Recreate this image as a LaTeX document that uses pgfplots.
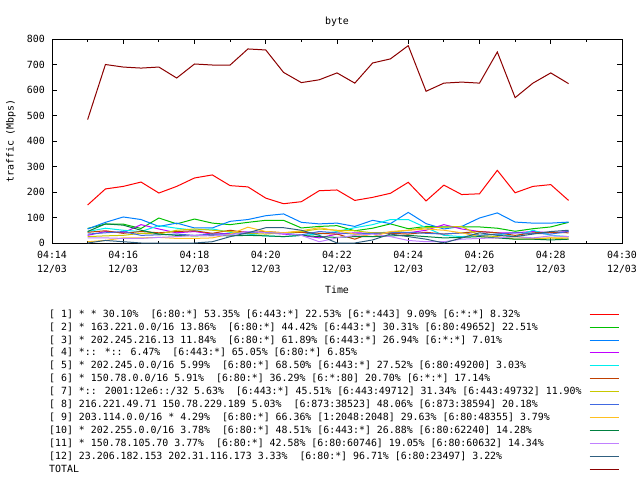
\documentclass[border=0pt]{standalone}
\usepackage{fontspec}
\setmainfont{DejaVu Sans Mono}
\usepackage{pgfplots}
\usepackage{pgfplotstable}
\pgfplotsset{compat=1.18}

% gnuplot png default line colours
\definecolor{c1}{HTML}{FF0000}
\definecolor{c2}{HTML}{00C000}
\definecolor{c3}{HTML}{0080FF}
\definecolor{c4}{HTML}{C000FF}
\definecolor{c5}{HTML}{00EEEE}
\definecolor{c6}{HTML}{C04000}
\definecolor{c7}{HTML}{C8C800}
\definecolor{c8}{HTML}{4169E1}
\definecolor{c9}{HTML}{FFC020}
\definecolor{c10}{HTML}{008040}
\definecolor{c11}{HTML}{C080FF}
\definecolor{c12}{HTML}{306080}
\definecolor{c13}{HTML}{8B0000}

% time in minutes after 04:00, traffic in Mbps
\pgfplotstableread{
t    s1   s2  s3  s4  s5  s6  s7  s8  s9  s10 s11 s12 tot
15.0 149  57  55  30  45  42  25  35  5   45  20  0   484
15.5 212  74  81  45  58  48  28  40  10  75  20  10  700
16.0 222  74  102 40  50  38  30  45  20  70  18  5   690
16.5 239  57  92  72  45  45  38  30  20  50  18  0   686
17.0 196  98  65  55  68  40  35  32  22  35  22  0   690
17.5 222  75  78  40  58  45  50  35  18  30  25  0   647
18.0 255  94  59  45  50  48  55  30  18  28  30  0   702
18.5 267  78  59  35  55  38  50  35  20  30  28  5   698
19.0 225  72  85  38  42  50  45  35  35  28  32  25  698
19.5 220  81  92  45  35  40  38  40  62  30  45  40  761
20.0 176  89  107 40  28  45  35  42  45  28  40  60  757
20.5 154  89  114 35  25  40  40  38  40  25  38  60  669
21.0 162  59  81  30  30  42  45  32  48  30  30  50  629
21.5 205  65  75  20  35  38  55  45  60  25  5   30  640
22.0 208  68  78  35  45  35  50  40  48  22  20  0   667
22.5 167  48  65  40  60  15  48  35  35  25  30  0   627
23.0 179  58  89  38  72  40  40  38  25  25  35  12  706
23.5 195  75  76  42  92  38  42  40  45  28  25  35  722
24.0 238  56  120 40  92  35  50  42  50  30  10  25  774
24.5 165  65  76  50  60  42  60  38  55  25  5   15  595
25.0 227  63  55  72  30  35  62  35  50  20  5   0   627
25.5 190  63  65  55  25  40  65  40  40  22  15  20  631
26.0 193  63  98  45  30  45  30  30  25  25  18  40  627
26.5 285  58  118 40  35  40  25  35  20  20  20  30  749
27.0 197  46  82  40  25  30  15  40  25  15  25  25  570
27.5 222  56  78  45  50  40  15  38  18  15  20  35  627
28.0 229  63  78  40  30  42  20  35  20  12  28  45  667
28.5 167  81  82  45  25  40  15  45  20  15  25  50  625
}\traffic

\newcommand{\gfont}{\fontsize{9.9bp}{12bp}\selectfont}
\newcommand{\entry}[1]{\makebox[540bp][l]{#1}}

\begin{document}
\begin{tikzpicture}[font=\gfont]
\path[use as bounding box] (0,0) rectangle (640bp,-480bp);
\begin{axis}[
  at={(52bp,-39bp)}, anchor=north west,
  scale only axis, width=570bp, height=204bp,
  xmin=14, xmax=30, ymin=0, ymax=800,
  xtick={14,16,...,30}, minor xtick={15,17,...,29},
  xticklabels={{04:14\\12/03},{04:16\\12/03},{04:18\\12/03},{04:20\\12/03},
    {04:22\\12/03},{04:24\\12/03},{04:26\\12/03},{04:28\\12/03},{04:30\\12/03}},
  ytick={0,100,...,800},
  /pgf/number format/assume math mode=true,
  tick align=inside, major tick length=5bp, minor tick length=2.5bp,
  every tick/.style={black, line width=1bp},
  axis line style={line width=1bp},
  xticklabel style={anchor=north, inner sep=0pt, yshift=-8bp, align=center,
    font=\fontsize{9.9bp}{14bp}\selectfont},
  yticklabel style={anchor=east, inner sep=0pt, xshift=-7bp},
  title={byte},
  title style={at={(axis description cs:0.5,1.054)}, anchor=center, inner sep=0pt, yshift=0pt},
  xlabel={Time},
  xlabel style={at={(axis description cs:0.5,-0.230)}, anchor=center, inner sep=0pt},
  ylabel={traffic (Mbps)},
  ylabel style={at={(axis description cs:-0.0719,0.5)}, anchor=center, inner sep=0pt},
  legend plot pos=right,
  legend cell align=left,
  legend image code/.code={\draw[#1] (0bp,0bp) -- (29bp,0bp);},
  legend style={at={(axis description cs:-0.00526,-0.326)}, anchor=north west,
    draw=none, fill=none, inner sep=0pt, row sep=3.9bp, font=\gfont,
    nodes={inner sep=0pt, text height=7.5bp, text depth=1.5bp}},
]
\addplot[c1, line width=1bp] table[x=t, y=s1] {\traffic};
\addlegendentry{\entry{[ 1] * * 30.10\%\ \ [6:80:*] 53.35\% [6:443:*] 22.53\% [6:*:443] 9.09\% [6:*:*] 8.32\%}}
\addplot[c2, line width=1bp] table[x=t, y=s2] {\traffic};
\addlegendentry{\entry{[ 2] * 163.221.0.0/16 13.86\%\ \ [6:80:*] 44.42\% [6:443:*] 30.31\% [6:80:49652] 22.51\%}}
\addplot[c3, line width=1bp] table[x=t, y=s3] {\traffic};
\addlegendentry{\entry{[ 3] * 202.245.216.13 11.84\%\ \ [6:80:*] 61.89\% [6:443:*] 26.94\% [6:*:*] 7.01\%}}
\addplot[c4, line width=1bp] table[x=t, y=s4] {\traffic};
\addlegendentry{\entry{[ 4] *:: *:: 6.47\%\ \ [6:443:*] 65.05\% [6:80:*] 6.85\%}}
\addplot[c5, line width=1bp] table[x=t, y=s5] {\traffic};
\addlegendentry{\entry{[ 5] * 202.245.0.0/16 5.99\%\ \ [6:80:*] 68.50\% [6:443:*] 27.52\% [6:80:49200] 3.03\%}}
\addplot[c6, line width=1bp] table[x=t, y=s6] {\traffic};
\addlegendentry{\entry{[ 6] * 150.78.0.0/16 5.91\%\ \ [6:80:*] 36.29\% [6:*:80] 20.70\% [6:*:*] 17.14\%}}
\addplot[c7, line width=1bp] table[x=t, y=s7] {\traffic};
\addlegendentry{\entry{[ 7] *:: 2001:12e6::/32 5.63\%\ \ [6:443:*] 45.51\% [6:443:49712] 31.34\% [6:443:49732] 11.90\%}}
\addplot[c8, line width=1bp] table[x=t, y=s8] {\traffic};
\addlegendentry{\entry{[ 8] 216.221.49.71 150.78.229.189 5.03\%\ \ [6:873:38523] 48.06\% [6:873:38594] 20.18\%}}
\addplot[c9, line width=1bp] table[x=t, y=s9] {\traffic};
\addlegendentry{\entry{[ 9] 203.114.0.0/16 * 4.29\%\ \ [6:80:*] 66.36\% [1:2048:2048] 29.63\% [6:80:48355] 3.79\%}}
\addplot[c10, line width=1bp] table[x=t, y=s10] {\traffic};
\addlegendentry{\entry{[10] * 202.255.0.0/16 3.78\%\ \ [6:80:*] 48.51\% [6:443:*] 26.88\% [6:80:62240] 14.28\%}}
\addplot[c11, line width=1bp] table[x=t, y=s11] {\traffic};
\addlegendentry{\entry{[11] * 150.78.105.70 3.77\%\ \ [6:80:*] 42.58\% [6:80:60746] 19.05\% [6:80:60632] 14.34\%}}
\addplot[c12, line width=1bp] table[x=t, y=s12] {\traffic};
\addlegendentry{\entry{[12] 23.206.182.153 202.31.116.173 3.33\%\ \ [6:80:*] 96.71\% [6:80:23497] 3.22\%}}
\addplot[c13, line width=1bp] table[x=t, y=tot] {\traffic};
\addlegendentry{\entry{TOTAL}}
\end{axis}
\end{tikzpicture}
\end{document}
